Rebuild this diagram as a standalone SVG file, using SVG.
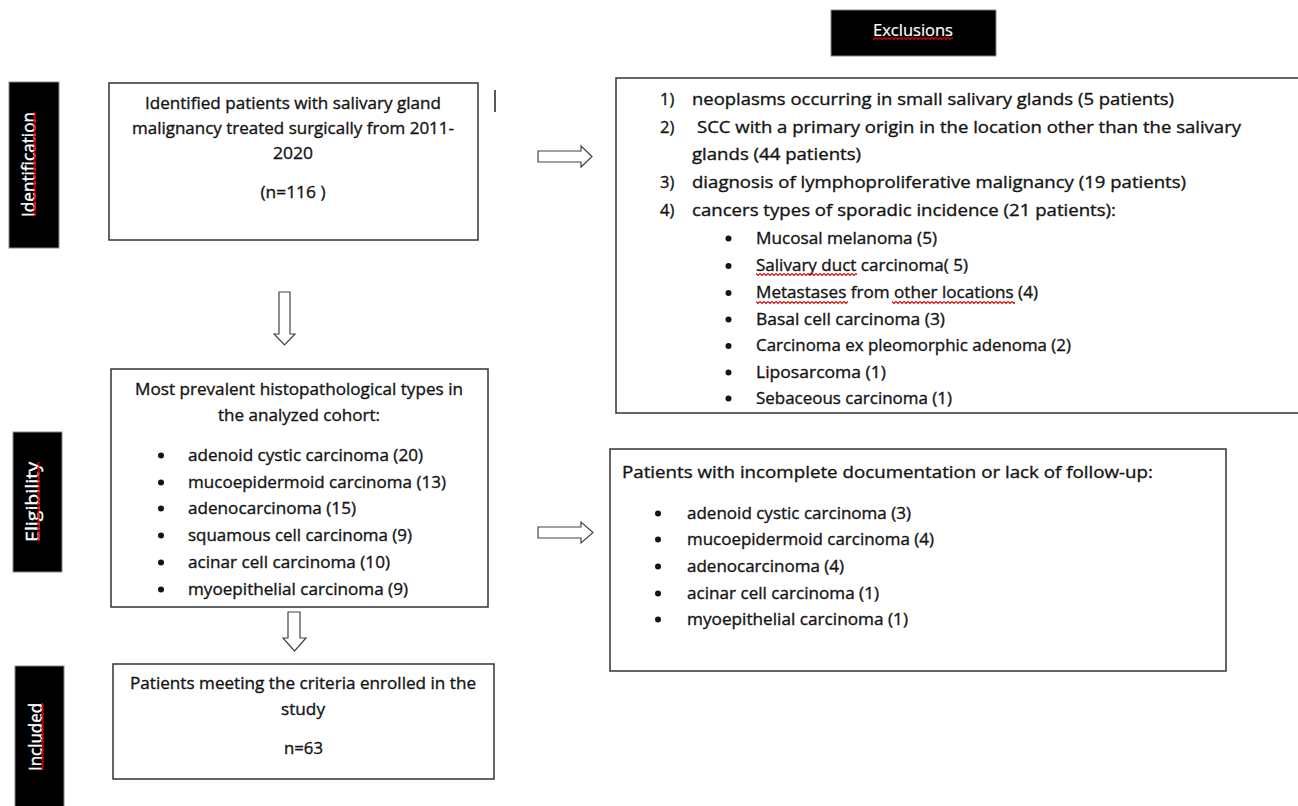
<svg xmlns="http://www.w3.org/2000/svg" width="1298" height="806" viewBox="0 0 1298 806">
<style>
.t{font-family:"Open Sans","Liberation Sans",sans-serif;font-size:16.5px;fill:#141414;stroke:#141414;stroke-width:0.35}
.c{text-anchor:middle}
.w{fill:#fff;stroke:#fff;stroke-width:0.4}
.lb{font-size:18.5px}
.box{fill:#fff;stroke:#333;stroke-width:1.5}
.blk{fill:#000;stroke:#888;stroke-width:1}
.arr{fill:#fff;stroke:#444;stroke-width:1.2}
.dot{fill:#141414}
</style>
<defs>
<pattern id="wh" width="4" height="4" patternUnits="userSpaceOnUse"><path d="M0 1.5L2 3.5L4 1.5" fill="none" stroke="#e00000" stroke-width="1.1"/></pattern>
<pattern id="wv" width="4" height="4" patternUnits="userSpaceOnUse"><path d="M1.5 0L3.5 2L1.5 4" fill="none" stroke="#e00000" stroke-width="1.3"/></pattern>
</defs>
<rect width="1298" height="806" fill="#fff"/>

<g id="label-identification">
<rect class="blk" x="9" y="82" width="50" height="166"/>
<text class="t c w lb" transform="translate(35,164.5) rotate(-90)" textLength="105" lengthAdjust="spacingAndGlyphs">Identification</text>
<rect x="32" y="112" width="4" height="104" fill="url(#wv)"/>
</g>
<g id="label-eligibility">
<rect class="blk" x="13" y="432" width="49" height="140"/>
<text class="t c w lb" transform="translate(39,502) rotate(-90)" textLength="80" lengthAdjust="spacingAndGlyphs">Eligibility</text>
<rect x="36" y="462" width="4" height="79" fill="url(#wv)"/>
</g>
<g id="label-included">
<rect class="blk" x="15" y="666" width="49" height="142"/>
<text class="t c w lb" transform="translate(42,737) rotate(-90)" textLength="68" lengthAdjust="spacingAndGlyphs">Included</text>
<rect x="40" y="703" width="4" height="67" fill="url(#wv)"/>
</g>
<g id="label-exclusions">
<rect class="blk" x="831" y="10" width="165" height="46"/>
<text class="t c w" x="913" y="36" style="font-size:17px;stroke-width:0.2" textLength="80" lengthAdjust="spacingAndGlyphs">Exclusions</text>
<rect x="873" y="36" width="80" height="4" fill="url(#wh)"/>
</g>

<g id="node-identified">
<rect class="box" x="109" y="83" width="369" height="157"/>
<text class="t c" x="293" y="109" textLength="296" lengthAdjust="spacingAndGlyphs">Identified patients with salivary gland</text>
<text class="t c" x="293" y="134" textLength="322" lengthAdjust="spacingAndGlyphs">malignancy treated surgically from 2011-</text>
<text class="t c" x="293" y="159" textLength="40" lengthAdjust="spacingAndGlyphs">2020</text>
<text class="t c" x="293" y="198" textLength="65" lengthAdjust="spacingAndGlyphs">(n=116 )</text>
</g>
<line x1="495" y1="90" x2="495" y2="112" stroke="#222" stroke-width="1.5"/>

<g id="node-exclusions">
<rect class="box" x="616" y="78" width="690" height="335"/>
<text class="t" x="660" y="104.5">1)</text>
<text class="t" x="692" y="104.5" textLength="482" lengthAdjust="spacingAndGlyphs">neoplasms occurring in small salivary glands (5 patients)</text>
<text class="t" x="660" y="132.5">2)</text>
<text class="t" x="697" y="132.5" textLength="544" lengthAdjust="spacingAndGlyphs">SCC with a primary origin in the location other than the salivary</text>
<text class="t" x="692" y="159.5" textLength="169" lengthAdjust="spacingAndGlyphs">glands (44 patients)</text>
<text class="t" x="660" y="187.5">3)</text>
<text class="t" x="692" y="187.5" textLength="494" lengthAdjust="spacingAndGlyphs">diagnosis of lymphoproliferative malignancy (19 patients)</text>
<text class="t" x="660" y="216">4)</text>
<text class="t" x="692" y="216" textLength="424" lengthAdjust="spacingAndGlyphs">cancers types of sporadic incidence (21 patients):</text>
<circle class="dot" cx="728.5" cy="238.5" r="3"/>
<text class="t" x="756" y="243.5" textLength="181" lengthAdjust="spacingAndGlyphs">Mucosal melanoma (5)</text>
<circle class="dot" cx="728.5" cy="266" r="3"/>
<text class="t" x="756" y="271" textLength="212" lengthAdjust="spacingAndGlyphs">Salivary duct carcinoma( 5)</text>
<rect x="756" y="272" width="101" height="4" fill="url(#wh)"/>
<circle class="dot" cx="728.5" cy="293" r="3"/>
<text class="t" x="756" y="298" textLength="282" lengthAdjust="spacingAndGlyphs">Metastases from other locations (4)</text>
<rect x="756" y="300" width="92" height="4" fill="url(#wh)"/>
<rect x="892" y="300" width="123" height="4" fill="url(#wh)"/>
<circle class="dot" cx="728.5" cy="319.5" r="3"/>
<text class="t" x="756" y="324.5" textLength="189" lengthAdjust="spacingAndGlyphs">Basal cell carcinoma  (3)</text>
<circle class="dot" cx="728.5" cy="346" r="3"/>
<text class="t" x="756" y="351" textLength="315" lengthAdjust="spacingAndGlyphs">Carcinoma ex pleomorphic adenoma (2)</text>
<circle class="dot" cx="728.5" cy="372.5" r="3"/>
<text class="t" x="756" y="377.5" textLength="130" lengthAdjust="spacingAndGlyphs">Liposarcoma  (1)</text>
<circle class="dot" cx="728.5" cy="398.5" r="3"/>
<text class="t" x="756" y="403.5" textLength="196" lengthAdjust="spacingAndGlyphs">Sebaceous carcinoma (1)</text>
</g>

<g id="node-histotypes">
<rect class="box" x="111" y="369" width="377" height="238"/>
<text class="t c" x="299" y="395" textLength="328" lengthAdjust="spacingAndGlyphs">Most prevalent histopathological types in</text>
<text class="t c" x="299" y="421" textLength="162" lengthAdjust="spacingAndGlyphs">the analyzed cohort:</text>
<circle class="dot" cx="161" cy="455.5" r="3"/>
<text class="t" x="188" y="461" textLength="235" lengthAdjust="spacingAndGlyphs">adenoid cystic carcinoma (20)</text>
<circle class="dot" cx="161" cy="482.5" r="3"/>
<text class="t" x="188" y="488" textLength="258" lengthAdjust="spacingAndGlyphs">mucoepidermoid carcinoma (13)</text>
<circle class="dot" cx="161" cy="508.5" r="3"/>
<text class="t" x="188" y="514" textLength="168" lengthAdjust="spacingAndGlyphs">adenocarcinoma (15)</text>
<circle class="dot" cx="161" cy="535.5" r="3"/>
<text class="t" x="188" y="541" textLength="224" lengthAdjust="spacingAndGlyphs">squamous cell carcinoma (9)</text>
<circle class="dot" cx="161" cy="562.5" r="3"/>
<text class="t" x="188" y="568" textLength="202" lengthAdjust="spacingAndGlyphs">acinar cell carcinoma (10)</text>
<circle class="dot" cx="161" cy="589.5" r="3"/>
<text class="t" x="188" y="595" textLength="220" lengthAdjust="spacingAndGlyphs">myoepithelial carcinoma (9)</text>
</g>

<g id="node-incomplete">
<rect class="box" x="610" y="449" width="616" height="222"/>
<text class="t" x="622" y="478" textLength="531" lengthAdjust="spacingAndGlyphs">Patients with incomplete documentation or lack of follow-up:</text>
<circle class="dot" cx="658" cy="513.5" r="3"/>
<text class="t" x="687" y="519" textLength="224" lengthAdjust="spacingAndGlyphs">adenoid cystic carcinoma (3)</text>
<circle class="dot" cx="658" cy="539.5" r="3"/>
<text class="t" x="687" y="545" textLength="247" lengthAdjust="spacingAndGlyphs">mucoepidermoid carcinoma (4)</text>
<circle class="dot" cx="658" cy="566.5" r="3"/>
<text class="t" x="687" y="572" textLength="157" lengthAdjust="spacingAndGlyphs">adenocarcinoma (4)</text>
<circle class="dot" cx="658" cy="593.5" r="3"/>
<text class="t" x="687" y="599" textLength="192" lengthAdjust="spacingAndGlyphs">acinar cell carcinoma (1)</text>
<circle class="dot" cx="658" cy="619.5" r="3"/>
<text class="t" x="687" y="625" textLength="221" lengthAdjust="spacingAndGlyphs">myoepithelial carcinoma (1)</text>
</g>

<g id="node-included">
<rect class="box" x="113" y="664" width="381" height="115"/>
<text class="t c" x="303" y="689" textLength="346" lengthAdjust="spacingAndGlyphs">Patients meeting the criteria enrolled in the</text>
<text class="t c" x="303" y="715" textLength="44" lengthAdjust="spacingAndGlyphs">study</text>
<text class="t c" x="303.5" y="754" textLength="39" lengthAdjust="spacingAndGlyphs">n=63</text>
</g>

<g id="connectors">
<polygon class="arr" points="279,292 290,292 290,334 295,334 284.5,345 274,334 279,334"/>
<polygon class="arr" points="288,612 300,612 300,638 306,638 294.5,651 283,638 288,638"/>
<polygon class="arr" points="538,151 581,151 581,146 592,156.5 581,167 581,162 538,162"/>
<polygon class="arr" points="538,527 581,527 581,522 593,532.5 581,543 581,538 538,538"/>
</g>
</svg>
